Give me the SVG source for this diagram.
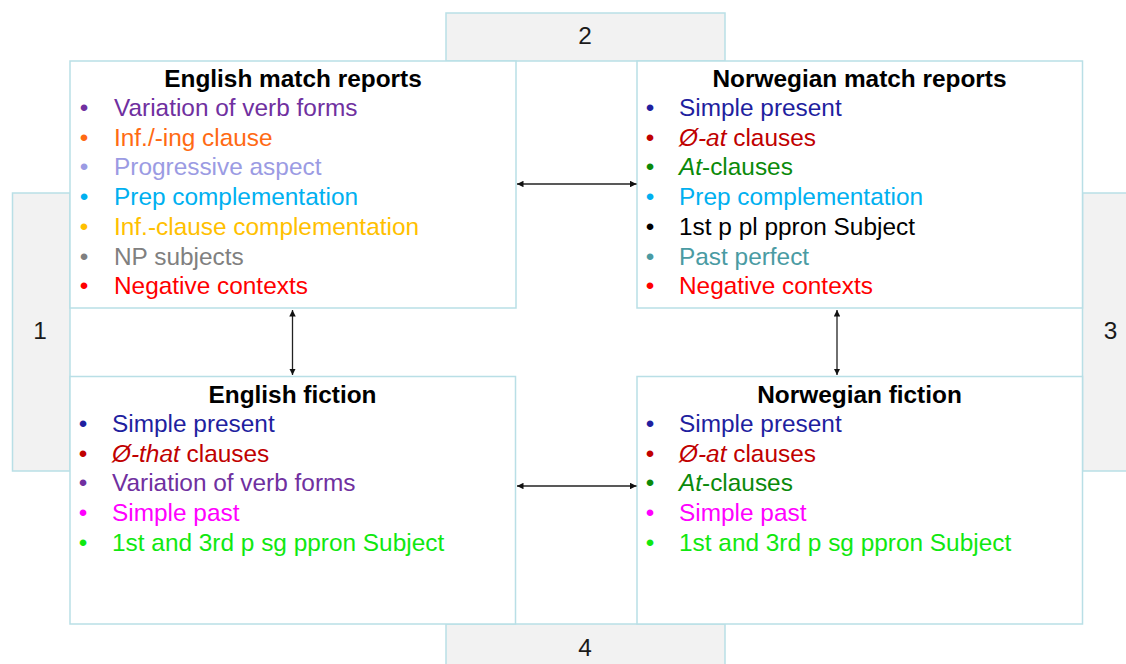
<svg xmlns="http://www.w3.org/2000/svg" width="1126" height="664" viewBox="0 0 1126 664">
<style>
text{font-family:"Liberation Sans",Arial,sans-serif;font-size:24.4px}
.gray{fill:#f2f2f2;stroke:#b9dfe6;stroke-width:1.5}
.box{fill:#ffffff;stroke:#b9dfe6;stroke-width:1.5}
.title{font-weight:bold;text-anchor:middle;fill:#000}
.num{text-anchor:middle;fill:#1a1a1a}
.b{text-anchor:middle}
.i{font-style:italic}
.conn{stroke:#222;stroke-width:1.3;fill:none;marker-start:url(#ah);marker-end:url(#ah)}
.c1{fill:#7030a0}.c2{fill:#ff6a13}.c3{fill:#9b9be3}.c4{fill:#00b0f0}.c5{fill:#ffc000}.c6{fill:#808080}.c7{fill:#ff0000}
.c8{fill:#1f1f9f}.c9{fill:#c00000}.c10{fill:#0a8a0a}.c11{fill:#000000}.c12{fill:#4a9ba3}.c13{fill:#ff00ff}.c14{fill:#10e810}
</style>
<defs>
<marker id="ah" viewBox="0 0 10 10" refX="10" refY="5" markerWidth="5" markerHeight="5" orient="auto-start-reverse" markerUnits="strokeWidth">
<path d="M0,0 L10,5 L0,10 z" fill="#111"/>
</marker>
</defs>
<g id="bg1"><rect class="gray" x="12.5" y="193" width="57.5" height="278"/><text class="num" x="40" y="339">1</text></g>
<g id="bg2"><rect class="gray" x="446" y="13" width="279" height="48"/><text class="num" x="585" y="44">2</text></g>
<g id="bg3"><rect class="gray" x="1082.5" y="193" width="60" height="278"/><text class="num" x="1110.5" y="339">3</text></g>
<g id="bg4"><rect class="gray" x="446" y="624" width="279" height="60"/><text class="num" x="585" y="656">4</text></g>

<g id="eng-match">
<rect class="box" x="70" y="61" width="446" height="247"/>
<text class="title" x="293" y="87">English match reports</text>
<text class="b c1" x="84" y="116">•</text><text class="c1" x="114" y="116">Variation of verb forms</text>
<text class="b c2" x="84" y="145.7">•</text><text class="c2" x="114" y="145.7">Inf./-ing clause</text>
<text class="b c3" x="84" y="175.4">•</text><text class="c3" x="114" y="175.4">Progressive aspect</text>
<text class="b c4" x="84" y="205.1">•</text><text class="c4" x="114" y="205.1">Prep complementation</text>
<text class="b c5" x="84" y="234.8">•</text><text class="c5" x="114" y="234.8">Inf.-clause complementation</text>
<text class="b c6" x="84" y="264.5">•</text><text class="c6" x="114" y="264.5">NP subjects</text>
<text class="b c7" x="84" y="294.2">•</text><text class="c7" x="114" y="294.2">Negative contexts</text>
</g>

<g id="nor-match">
<rect class="box" x="637" y="61" width="445.5" height="247"/>
<text class="title" x="859.5" y="87">Norwegian match reports</text>
<text class="b c8" x="650" y="116">•</text><text class="c8" x="679" y="116">Simple present</text>
<text class="b c9" x="650" y="145.7">•</text><text class="c9" x="679" y="145.7"><tspan class="i">Ø-at</tspan> clauses</text>
<text class="b c10" x="650" y="175.4">•</text><text class="c10" x="679" y="175.4"><tspan class="i">At</tspan>-clauses</text>
<text class="b c4" x="650" y="205.1">•</text><text class="c4" x="679" y="205.1">Prep complementation</text>
<text class="b c11" x="650" y="234.8">•</text><text class="c11" x="679" y="234.8">1st p pl ppron Subject</text>
<text class="b c12" x="650" y="264.5">•</text><text class="c12" x="679" y="264.5">Past perfect</text>
<text class="b c7" x="650" y="294.2">•</text><text class="c7" x="679" y="294.2">Negative contexts</text>
</g>

<g id="eng-fiction">
<rect class="box" x="70" y="376.5" width="445.5" height="247.5"/>
<text class="title" x="292.5" y="402.5">English fiction</text>
<text class="b c8" x="83" y="432">•</text><text class="c8" x="112" y="432">Simple present</text>
<text class="b c9" x="83" y="461.7">•</text><text class="c9" x="112" y="461.7"><tspan class="i">Ø-that</tspan> clauses</text>
<text class="b c1" x="83" y="491.3">•</text><text class="c1" x="112" y="491.3">Variation of verb forms</text>
<text class="b c13" x="83" y="520.9">•</text><text class="c13" x="112" y="520.9">Simple past</text>
<text class="b c14" x="83" y="550.5">•</text><text class="c14" x="112" y="550.5">1st and 3rd p sg ppron Subject</text>
</g>

<g id="nor-fiction">
<rect class="box" x="637" y="376.5" width="445.5" height="247.5"/>
<text class="title" x="859.5" y="402.5">Norwegian fiction</text>
<text class="b c8" x="650" y="432">•</text><text class="c8" x="679" y="432">Simple present</text>
<text class="b c9" x="650" y="461.7">•</text><text class="c9" x="679" y="461.7"><tspan class="i">Ø-at</tspan> clauses</text>
<text class="b c10" x="650" y="491.3">•</text><text class="c10" x="679" y="491.3"><tspan class="i">At</tspan>-clauses</text>
<text class="b c13" x="650" y="520.9">•</text><text class="c13" x="679" y="520.9">Simple past</text>
<text class="b c14" x="650" y="550.5">•</text><text class="c14" x="679" y="550.5">1st and 3rd p sg ppron Subject</text>
</g>

<g id="connectors">
<line class="conn" x1="517" y1="184" x2="636.5" y2="184"/>
<line class="conn" x1="517" y1="486" x2="636.5" y2="486"/>
<line class="conn" x1="292.5" y1="310" x2="292.5" y2="375"/>
<line class="conn" x1="837" y1="310" x2="837" y2="375"/>
</g>
</svg>
